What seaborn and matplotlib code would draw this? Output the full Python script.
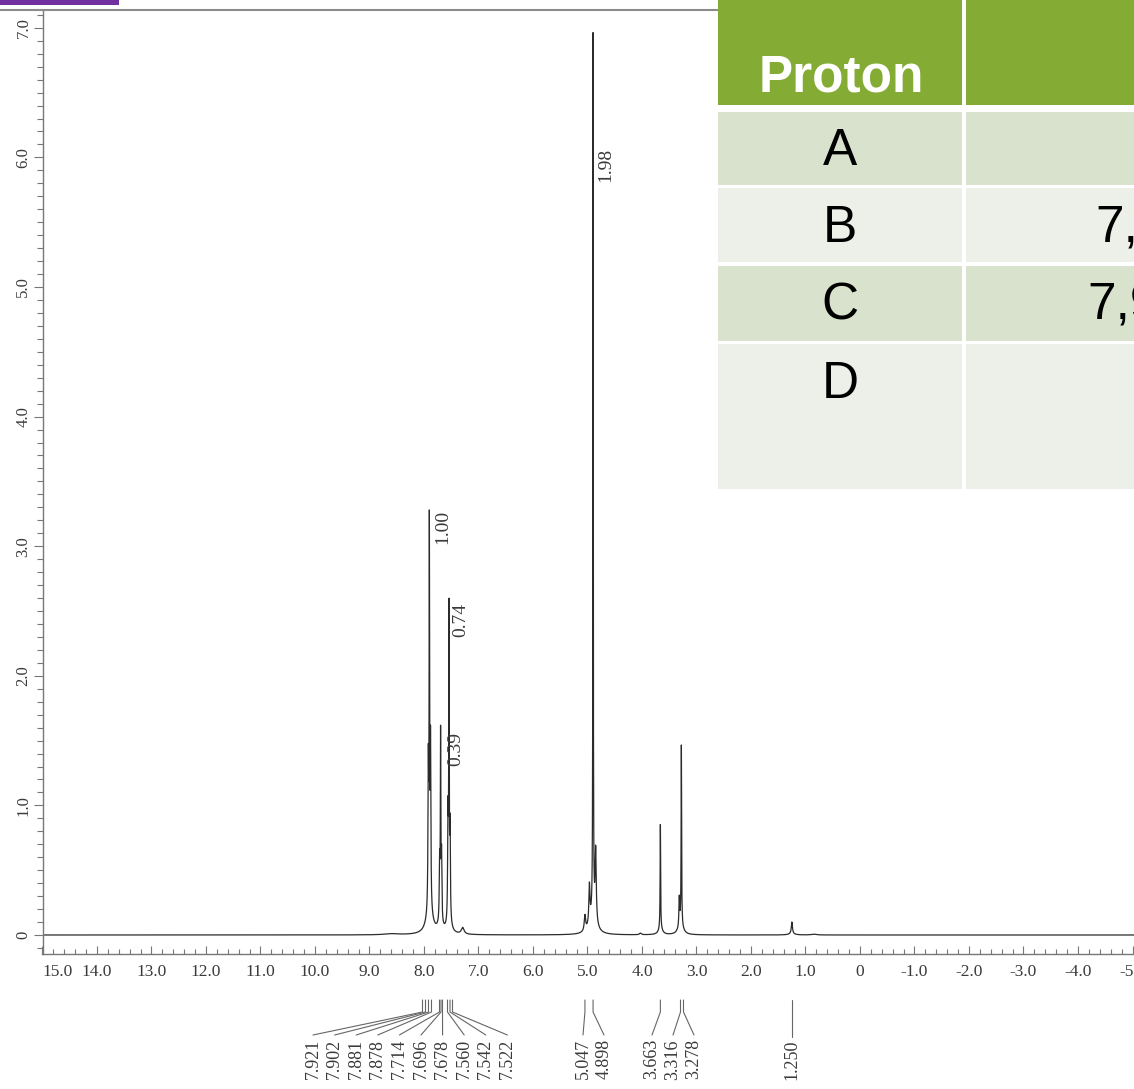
import numpy as np
import pandas as pd
import matplotlib
matplotlib.use("Agg")
import matplotlib.pyplot as plt
import seaborn as sns
from matplotlib.patches import Rectangle
from matplotlib.lines import Line2D
from matplotlib.ticker import MultipleLocator

# ---------------- data ----------------
peak_center = [7.921, 7.902, 7.881, 7.878, 7.900,
               7.714, 7.696, 7.678, 7.700,
               7.560, 7.542, 7.522, 7.540, 7.290,
               5.047, 4.965, 4.898, 4.850, 4.900, 4.030,
               3.663, 3.660, 3.316, 3.278, 3.290,
               1.250, 1.250, 0.850, 8.600]
peak_height = [1.10, 2.85, 1.10, 0.20, 0.16,
               0.45, 1.40, 0.50, 0.06,
               0.80, 2.33, 0.70, 0.07, 0.05,
               0.12, 0.30, 6.78, 0.55, 0.14, 0.012,
               0.80, 0.05, 0.22, 1.38, 0.08,
               0.09, 0.01, 0.006, 0.008]
peak_hwhm = [0.007, 0.005, 0.007, 0.008, 0.07,
             0.007, 0.005, 0.007, 0.05,
             0.007, 0.005, 0.007, 0.05, 0.03,
             0.015, 0.012, 0.004, 0.012, 0.07, 0.02,
             0.005, 0.04, 0.008, 0.005, 0.05,
             0.012, 0.06, 0.05, 0.15]

shift_labels = ["7.921", "7.902", "7.881", "7.878", "7.714", "7.696", "7.678",
                "7.560", "7.542", "7.522",
                "5.047", "4.898", "3.663", "3.316", "3.278", "1.250"]

integral_values = ["1.00", "0.74", "0.39", "1.98"]
integral_peak_ppm = [7.902, 7.542, 7.696, 4.898]

y_tick_values = [0, 1, 2, 3, 4, 5, 6, 7]
y_tick_labels = ["0", "1.0", "2.0", "3.0", "4.0", "5.0", "6.0", "7.0"]
x_tick_values = list(range(15, -6, -1))
x_tick_labels = ["15.0", "14.0", "13.0", "12.0", "11.0", "10.0", "9.0", "8.0",
                 "7.0", "6.0", "5.0", "4.0", "3.0", "2.0", "1.0", "0",
                 "-1.0", "-2.0", "-3.0", "-4.0", "-5.0"]

table_header = "Proton"
table_rows = ["A", "B", "C", "D"]
table_col2 = ["", "7,5", "7,9", ""]

# ---------------- spectrum from peak list ----------------
ppm = np.linspace(15.0, -5.2, 20201)
intensity = np.zeros_like(ppm)
for c, h, w in zip(peak_center, peak_height, peak_hwhm):
    intensity += h / (1.0 + ((ppm - c) / w) ** 2)
df = pd.DataFrame({"ppm": ppm, "intensity": intensity})

# ---------------- figure ----------------
W, H = 1134, 1089
sns.set_style("ticks")
plt.rcParams["font.family"] = ["Liberation Serif", "DejaVu Serif"]

fig = plt.figure(figsize=(W / 100, H / 100), dpi=100)
fig.patch.set_facecolor("white")

ax_left, ax_top, ax_bot = 42.5, 10, 954
ax = fig.add_axes([ax_left / W, 1 - ax_bot / H, 1 - ax_left / W, (ax_bot - ax_top) / H])

px_per_ppm = 54.5
x_right = 15.0 - (W - ax_left) / px_per_ppm
px_per_unit = 129.6
y0_px = 935
ax.set_xlim(15.0, x_right)
ax.set_ylim(-(ax_bot - y0_px) / px_per_unit, 7.0 + (y0_px - 7.0 * px_per_unit - ax_top) / px_per_unit)

sns.lineplot(data=df, x="ppm", y="intensity", ax=ax, color="#2b2b2b",
             linewidth=0.9, estimator=None, sort=False)
ax.set_xlabel("")
ax.set_ylabel("")

for s in ["top", "right"]:
    ax.spines[s].set_visible(False)
for s in ["left", "bottom"]:
    ax.spines[s].set_color("#777777")
    ax.spines[s].set_linewidth(1.0)

ax.set_xticks(x_tick_values)
xt = ax.set_xticklabels(x_tick_labels, fontsize=12.5, color="#3a3a3a")
xt[0].set_ha("left")
ax.xaxis.set_minor_locator(MultipleLocator(0.2))
ax.tick_params(axis="x", which="major", direction="in", length=6, width=0.8,
               color="#777777", pad=7)
ax.tick_params(axis="x", which="minor", direction="in", length=3.6, width=0.8,
               color="#777777")

ax.set_yticks(y_tick_values)
ax.set_yticklabels(y_tick_labels, fontsize=12, color="#3a3a3a", rotation=90, va="center")
ax.yaxis.set_minor_locator(MultipleLocator(0.1))
ax.tick_params(axis="y", which="major", direction="out", length=6.5, width=0.8,
               color="#777777", pad=1.5)
ax.tick_params(axis="y", which="minor", direction="out", length=4.3, width=0.8,
               color="#777777")

def px2ppm(xp):
    return 15.0 - (xp - ax_left) / px_per_ppm

def ppm2px(p):
    return ax_left + (15.0 - p) * px_per_ppm

# integral values next to the peaks (layout: pixel offset and label top)
integral_dx_px = [13, 12, 15, 13]
integral_top = [3.28, 2.56, 1.57, 6.07]
for val, p, dx, top in zip(integral_values, integral_peak_ppm, integral_dx_px, integral_top):
    ax.text(px2ppm(ppm2px(p) + dx), top, val, rotation=90, ha="center", va="top",
            fontsize=14, color="#3a3a3a")

# peak picking labels below the axis
trans = ax.get_xaxis_transform()
def yfrac(ypx):
    return (ax_bot - ypx) / (ax_bot - ax_top)

label_px = [313 + 21.6 * i for i in range(10)] + [583, 604, 652, 673, 694, None]
stem_px = [422.5, 425.5, 428.5, 431.5, 439.5, 441.0, 442.5, 447.5, 450.0, 452.5,
           None, None, None, 680.5, 683.5, None]
for lab, lx, sx in zip(shift_labels, label_px, stem_px):
    p = float(lab)
    sp = p if sx is None else px2ppm(sx)
    if lx is None:
        lp = sp
        ax.add_line(Line2D([sp, sp], [yfrac(1000), yfrac(1037)], transform=trans,
                           color="#666666", lw=0.8, clip_on=False))
        ty = 1040
    else:
        lp = px2ppm(lx)
        ax.add_line(Line2D([sp, sp, lp], [yfrac(1000), yfrac(1012), yfrac(1035)],
                           transform=trans, color="#666666", lw=0.8, clip_on=False))
        ty = 1039
    ax.text(lp, yfrac(ty), lab, transform=trans, rotation=90, ha="center", va="top",
            fontsize=13, color="#3a3a3a", clip_on=False)

# ---------------- decorations / table ----------------
def rect(x0, y0, x1, y1, color):
    fig.add_artist(Rectangle((x0 / W, 1 - y1 / H), (x1 - x0) / W, (y1 - y0) / H,
                             transform=fig.transFigure, facecolor=color,
                             edgecolor="none", zorder=5))

fig.add_artist(Line2D([0, 718 / W], [1 - 9.5 / H, 1 - 9.5 / H], transform=fig.transFigure,
                      color="#8c8c8c", lw=1.5, zorder=4))
rect(0, 0, 119, 5, "#7030A0")

green = "#84AB34"
dark_row = "#D9E2CD"
light_row = "#EDF0E8"
col1 = (718, 962)
col2 = (966, W + 5)
rect(col1[0], 0, col1[1], 105, green)
rect(col2[0], 0, col2[1], 105, green)
row_bounds = [(112, 185), (188, 262), (266, 341), (344, 489)]
row_colors = [dark_row, light_row, dark_row, light_row]
for (y0, y1), c in zip(row_bounds, row_colors):
    rect(col1[0], y0, col1[1], y1, c)
    rect(col2[0], y0, col2[1], y1, c)

sans = ["Liberation Sans", "DejaVu Sans"]
fig.text(841 / W, 1 - 91 / H, table_header, ha="center", va="baseline", fontsize=37,
         fontweight="bold", color="white", family=sans, zorder=6)
row_baselines = [165, 242, 320, 398]
col2_x = [1095, 1095, 1087, 1095]
for r, t, yb, cx in zip(table_rows, table_col2, row_baselines, col2_x):
    fig.text(840 / W, 1 - yb / H, r, ha="center", va="baseline", fontsize=37,
             color="black", family=sans, zorder=6)
    if t:
        fig.text(cx / W, 1 - yb / H, t, ha="left", va="baseline", fontsize=37,
                 color="black", family=sans, zorder=6)

fig.savefig("out.png", dpi=100)
